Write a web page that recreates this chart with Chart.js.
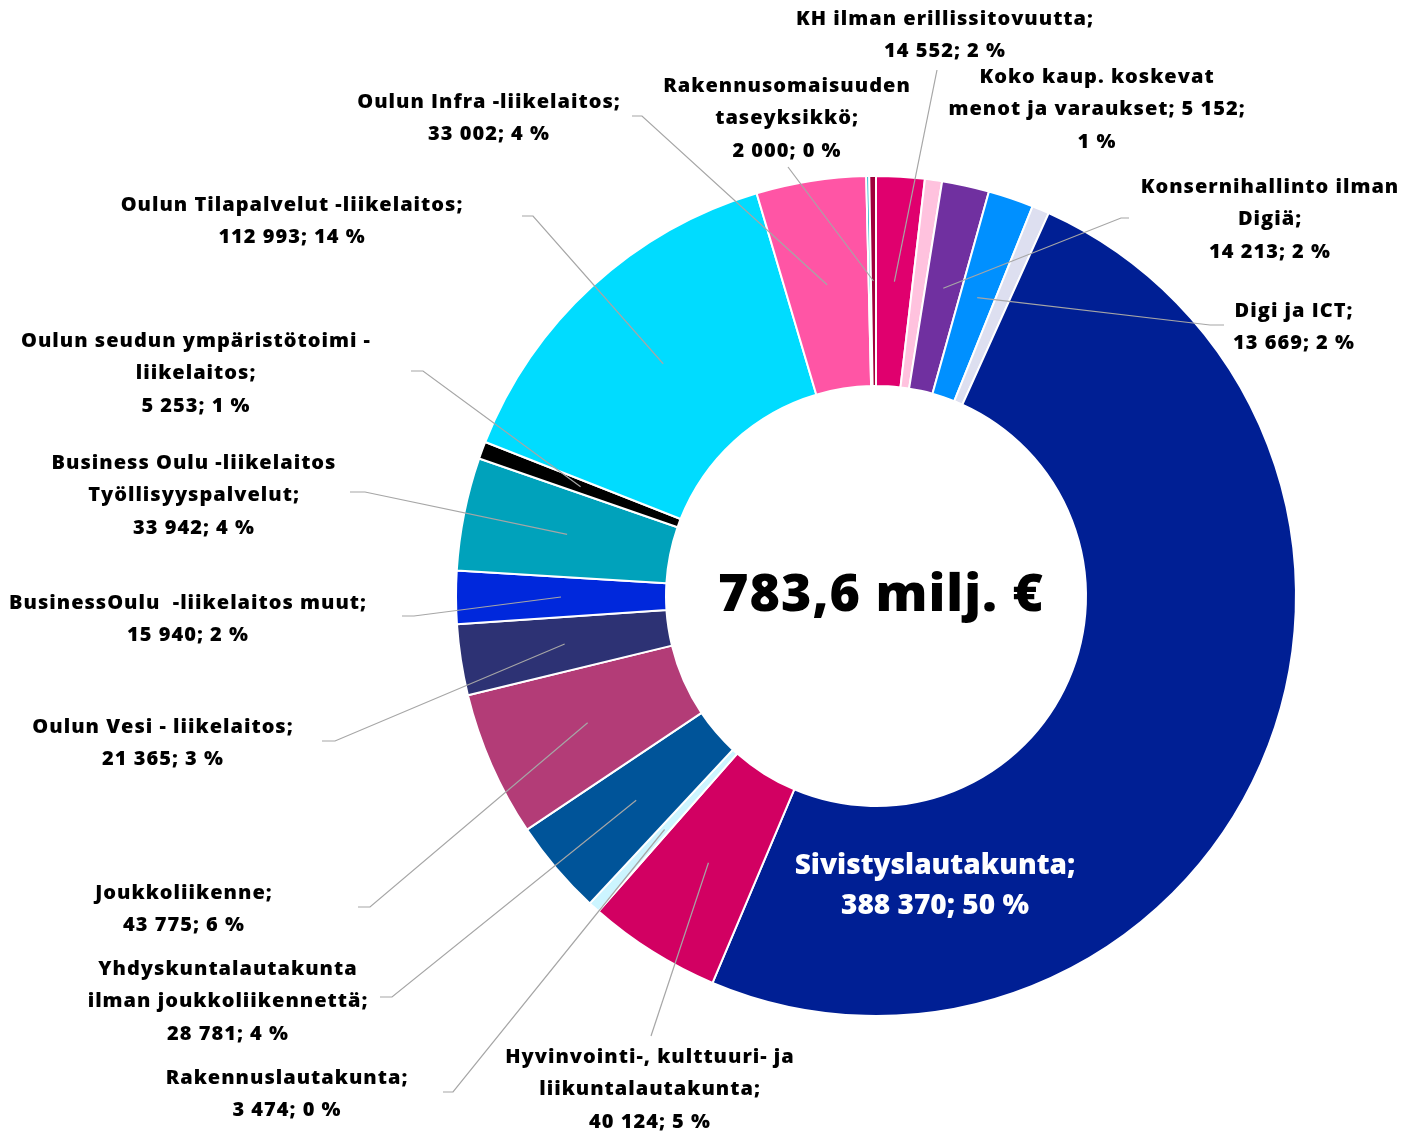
<!DOCTYPE html>
<html lang="fi">
<head>
<meta charset="UTF-8">
<title>Toimintamenot 783,6 milj. €</title>
<script src="https://cdn.jsdelivr.net/npm/chart.js"></script>
<style>
  html, body { margin: 0; padding: 0; background: #ffffff; }
  #wrap { width: 1409px; height: 1139px; }
</style>
</head>
<body>
<div id="wrap"><canvas id="donut" width="1409" height="1139"></canvas></div>
<script>
  // slices clockwise from 12 o'clock, values in 1000 €
  const names = [
    'KH ilman erillissitovuutta',
    'Koko kaup. koskevat\nmenot ja varaukset',
    'Konsernihallinto ilman\nDigiä',
    'Digi ja ICT',
    null,
    'Sivistyslautakunta',
    'Hyvinvointi-, kulttuuri- ja\nliikuntalautakunta',
    'Rakennuslautakunta',
    'Yhdyskuntalautakunta\nilman joukkoliikennettä',
    'Joukkoliikenne',
    'Oulun Vesi - liikelaitos',
    'BusinessOulu  -liikelaitos muut',
    'Business Oulu -liikelaitos\nTyöllisyyspalvelut',
    'Oulun seudun ympäristötoimi -\nliikelaitos',
    'Oulun Tilapalvelut -liikelaitos',
    'Oulun Infra -liikelaitos',
    null,
    'Rakennusomaisuuden\ntaseyksikkö'
  ];
  const values = [14552, 5152, 14213, 13669, 5200, 388370, 40124, 3474, 28781,
                  43775, 21365, 15940, 33942, 5253, 112993, 33002, 900, 2000];
  const colors = ['#e0006e', '#ffc2de', '#7030a0', '#0090ff', '#dddff0', '#001f94',
                  '#d20062', '#ccf5ff', '#005499', '#b33c77', '#2d3274', '#0028dc',
                  '#00a2bb', '#000000', '#00dcff', '#ff55a5', '#00b0c8', '#a0003c'];
  const centerText = '783,6 milj. €';

  // label placement: text centre x, first line y, leader start x/y, elbow length
  const labelPos = [
    [945, 19, 937, 70, 0],
    [1097, 77],
    [1270, 187, 1129, 218, -8],
    [1294, 311, 1224, 325, -14],
    null,
    [935, 866],
    [650, 1057, 651, 1036, 0],
    [287, 1078, 443, 1092, 10],
    [228, 969, 380, 997, 12],
    [184, 893, 358, 907, 12],
    [163, 727, 322, 741, 13],
    [188, 603, 402, 616, 12],
    [194, 463, 350, 492, 15],
    [196, 341, 411, 371, 12],
    [292, 205, 522, 216, 11],
    [489, 102, 632, 116, 10],
    null,
    [787, 86, 788, 167, 0]
  ];

  const total = values.reduce((a, b) => a + b, 0);
  const fmtNum = n => String(n).replace(/\B(?=(\d{3})+(?!\d))/g, ' ');
  const FONT = '"Open Sans", "Noto Sans", sans-serif';

  function labelLines(i) {
    const v = fmtNum(values[i]);
    const p = Math.round(values[i] / total * 100);
    const parts = names[i].split('\n');
    if (i === 1) {
      parts[parts.length - 1] += '; ' + v + ';';
      parts.push(p + ' %');
    } else {
      parts[parts.length - 1] += ';';
      parts.push(v + '; ' + p + ' %');
    }
    return parts;
  }

  const labelPlugin = {
    id: 'sliceLabels',
    afterDatasetsDraw(chart) {
      const ctx = chart.ctx;
      const arcs = chart.getDatasetMeta(0).data;
      ctx.save();
      // leader lines
      ctx.strokeStyle = '#a6a6a6';
      ctx.lineWidth = 1.2;
      labelPos.forEach((lp, i) => {
        if (!lp || lp.length < 3) return;
        const c = arcs[i].getCenterPoint();
        ctx.beginPath();
        ctx.moveTo(lp[2], lp[3]);
        ctx.lineTo(lp[2] + lp[4], lp[3]);
        ctx.lineTo(c.x, c.y);
        ctx.stroke();
      });
      // label texts
      ctx.textAlign = 'center';
      ctx.textBaseline = 'middle';
      labelPos.forEach((lp, i) => {
        if (!lp) return;
        const big = i === 5;
        ctx.font = (big ? '800 28px ' : '800 20px ') + FONT;
        ctx.letterSpacing = big ? '0px' : '1px';
        ctx.fillStyle = big ? '#ffffff' : '#000000';
        const lh = big ? 40 : 32.5;
        labelLines(i).forEach((t, k) => ctx.fillText(t, lp[0], lp[1] + k * lh));
      });
      // centre total
      const a = arcs[0];
      ctx.font = '800 52px ' + FONT;
      ctx.letterSpacing = '1px';
      ctx.fillStyle = '#000000';
      ctx.fillText(centerText, a.x + 5, a.y);
      ctx.restore();
    }
  };

  new Chart(document.getElementById('donut'), {
    type: 'doughnut',
    data: {
      labels: names.map(n => n ? n.replace('\n', ' ') : ''),
      datasets: [{
        data: values,
        backgroundColor: colors,
        borderColor: '#ffffff',
        borderWidth: 2
      }]
    },
    options: {
      responsive: false,
      animation: false,
      cutout: '50%',
      layout: { padding: { left: 455, right: 112, top: 175, bottom: 122 } },
      plugins: { legend: { display: false }, tooltip: { enabled: false } }
    },
    plugins: [labelPlugin]
  });
</script>
</body>
</html>
